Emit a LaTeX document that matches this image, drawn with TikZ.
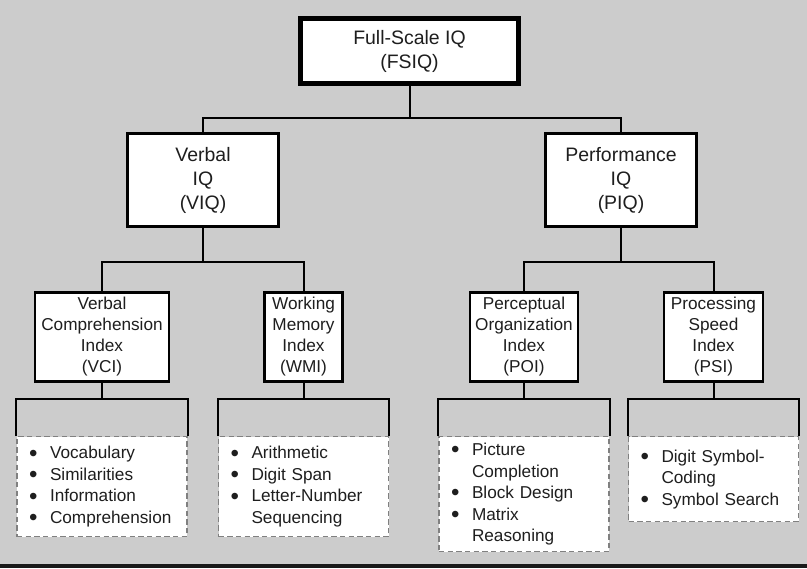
\documentclass[tikz,border=0pt]{standalone}
\usepackage{fontspec}
\setmainfont{Liberation Sans}
\usetikzlibrary{positioning}
\definecolor{bggray}{RGB}{204,204,204}
\definecolor{dashgray}{RGB}{128,128,128}
\definecolor{ink}{RGB}{30,30,30}
\newcommand{\bul}{\makebox[15.75pt][l]{\smash{\raisebox{-0.13em}{\scalebox{1.4}{\textbullet}}}}}
\newcommand{\cont}{\hspace*{15.75pt}}

\begin{document}
\begin{tikzpicture}[x=0.75pt,y=-0.75pt,
  text=ink,
  box/.style={draw=black,fill=white,align=center,inner sep=0pt},
  topbox/.style={box,line width=3.6pt,minimum width=163.5pt,minimum height=48.75pt,
                 font=\fontsize{14.6pt}{18pt}\selectfont},
  iqbox/.style={box,line width=2.3pt,minimum width=113.25pt,minimum height=69.75pt,
                font=\fontsize{14.6pt}{18pt}\selectfont},
  idxbox/.style={box,line width=2.2pt,minimum height=66.75pt,
                 font=\fontsize{12.9pt}{15.75pt}\selectfont},
  subtests/.style={draw=dashgray,dash pattern=on 4pt off 2.5pt,line width=0.9pt,fill=white,
                   anchor=north,text width=109.5pt,inner xsep=9pt,inner ysep=0pt,align=left,
                   font=\fontsize{12.9pt}{16.1pt}\selectfont},
  conn/.style={draw=black,line width=1.5pt},
]
\useasboundingbox (0,0) rectangle (807,568);
\fill[bggray] (0,0) rectangle (807,568);
\fill[black!90] (0,564) rectangle (807,568);

% top levels
\node[topbox] (fsiq) at (409.5,51) {Full-Scale IQ\\(FSIQ)};
\node[iqbox] (viq) at (203,180) {Verbal\\IQ\\(VIQ)};
\node[iqbox] (piq) at (621,180) {Performance\\IQ\\(PIQ)};

% index scores
\node[idxbox,minimum width=100.5pt] (vci) at (102,337) {Verbal\\Comprehension\\Index\\(VCI)};
\node[idxbox,minimum width=58.5pt] (wmi) at (303.5,337) {Working\\Memory\\Index\\(WMI)};
\node[idxbox,minimum width=81pt] (poi) at (524,337) {Perceptual\\Organization\\Index\\(POI)};
\node[idxbox,minimum width=74.25pt] (psi) at (713.5,337) {Processing\\Speed\\Index\\(PSI)};

% subtests
\node[subtests,minimum height=75pt] (vcil) at (102,436)
  {\bul Vocabulary\\\bul Similarities\\\bul Information\\\bul Comprehension};
\node[subtests,minimum height=75pt] (wmil) at (303.5,436)
  {\bul Arithmetic\\\bul Digit Span\\\bul Letter-Number\\\cont Sequencing};
\node[subtests,minimum height=86.25pt] (poil) at (524,436)
  {\bul Picture\\\cont Completion\\\bul Block Design\\\bul Matrix\\\cont Reasoning};
\node[subtests,minimum height=63.75pt] (psil) at (713.5,436)
  {\bul Digit Symbol-\\\cont Coding\\\bul Symbol Search};

% joints
\coordinate (j1) at (409.5,118);
\coordinate (j2) at (203,262);
\coordinate (j3) at (621,262);
\coordinate (k1) at (102,399);
\coordinate (k2) at (303.5,399);
\coordinate (k3) at (524,399);
\coordinate (k4) at (713.5,399);

\draw[conn] (fsiq) -- (j1);
\draw[conn] (viq.north) |- (j1) -| (piq.north);
\draw[conn] (viq) -- (j2);
\draw[conn] (vci.north) |- (j2) -| (wmi.north);
\draw[conn] (piq) -- (j3);
\draw[conn] (poi.north) |- (j3) -| (psi.north);

\draw[conn] (vci) -- (k1);
\draw[conn] (vcil.north west) |- (k1) -| (vcil.north east);
\draw[conn] (wmi) -- (k2);
\draw[conn] (wmil.north west) |- (k2) -| (wmil.north east);
\draw[conn] (poi) -- (k3);
\draw[conn] (poil.north west) |- (k3) -| (poil.north east);
\draw[conn] (psi) -- (k4);
\draw[conn] (psil.north west) |- (k4) -| (psil.north east);
\end{tikzpicture}
\end{document}
